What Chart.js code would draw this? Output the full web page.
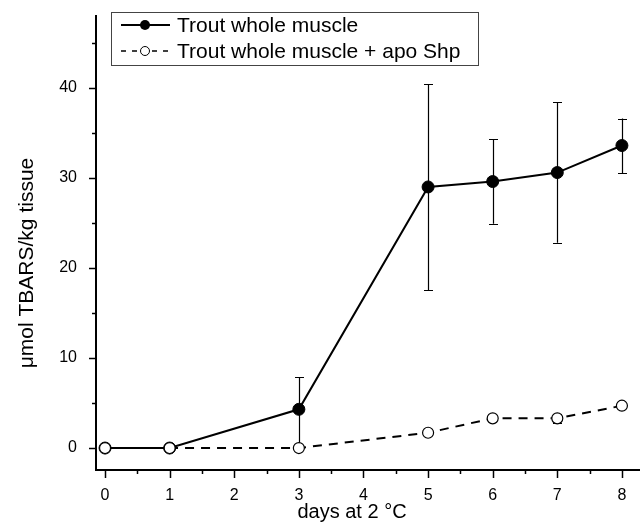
<!DOCTYPE html>
<html><head><meta charset="utf-8">
<script src="https://cdn.jsdelivr.net/npm/chart.js@4/dist/chart.umd.min.js"></script>
<style>html,body{margin:0;padding:0;background:#fff}#w{width:640px;height:525px}</style>
</head><body><div id="w"><canvas id="c" width="640" height="525"></canvas></div>
<script>
const days = [0, 1, 3, 5, 6, 7, 8];
const wholeMuscle = [0, 0, 4.3, 29.0, 29.6, 30.6, 33.6];
const wholeMuscleErrHi = [0, 0, 7.9, 40.4, 34.3, 38.4, 36.6];
const wholeMuscleErrLo = [0, 0, 0, 17.5, 24.9, 22.8, 30.5];
const apoShp = [0, 0, 0, 1.7, 3.3, 3.3, 4.7];
const apoShpErrHi = [0, 0, 0, 1.7, 3.3, 3.8, 4.7];
const apoShpErrLo = [0, 0, 0, 1.7, 3.3, 2.8, 4.7];
const xTicks = [0, 1, 2, 3, 4, 5, 6, 7, 8];
const yTicks = [0, 10, 20, 30, 40];
const legendLabels = ['Trout whole muscle', 'Trout whole muscle + apo Shp'];
const xTitle = 'days at 2 °C';
const yTitle = 'μmol TBARS/kg tissue';

const FONT = 'Liberation Sans, Arial, sans-serif';
const zeroPad = () => ({ left: 0, right: 0, top: 0, bottom: 0 });

const errPlugin = {
  id: 'err',
  beforeDatasetsDraw(chart) {
    const ctx = chart.ctx, x = chart.scales.x, y = chart.scales.y;
    const sets = [[wholeMuscleErrHi, wholeMuscleErrLo], [apoShpErrHi, apoShpErrLo]];
    ctx.save();
    ctx.strokeStyle = '#000'; ctx.lineWidth = 1.2;
    sets.forEach(([hi, lo]) => {
      days.forEach((d, i) => {
        if (hi[i] === lo[i]) return;
        const px = Math.round(x.getPixelForValue(d)) + 0.5;
        const yh = y.getPixelForValue(hi[i]), yl = y.getPixelForValue(lo[i]);
        ctx.beginPath();
        ctx.moveTo(px, yh); ctx.lineTo(px, yl);
        ctx.moveTo(px - 4.5, Math.round(yh) + 0.5); ctx.lineTo(px + 4.5, Math.round(yh) + 0.5);
        ctx.moveTo(px - 4.5, Math.round(yl) + 0.5); ctx.lineTo(px + 4.5, Math.round(yl) + 0.5);
        ctx.stroke();
      });
    });
    ctx.restore();
  },
  afterDraw(chart) {
    const ctx = chart.ctx, x = chart.scales.x, y = chart.scales.y, ca = chart.chartArea;
    ctx.save();
    ctx.strokeStyle = '#000'; ctx.lineWidth = 2;
    ctx.beginPath();
    ctx.moveTo(ca.left, ca.top); ctx.lineTo(ca.left, ca.bottom);
    ctx.lineTo(chart.width, ca.bottom);
    ctx.stroke();
    ctx.lineWidth = 1.5;
    for (let v = 0; v <= 45; v += 5) {
      const py = Math.round(y.getPixelForValue(v)) + 0.5;
      const len = v % 10 === 0 ? 7 : 4;
      ctx.beginPath(); ctx.moveTo(ca.left, py); ctx.lineTo(ca.left - len, py); ctx.stroke();
    }
    for (let v = 0; v <= 8; v += 0.5) {
      const px = Math.round(x.getPixelForValue(v)) + 0.5;
      const len = Number.isInteger(v) ? 8 : 4;
      ctx.beginPath(); ctx.moveTo(px, ca.bottom); ctx.lineTo(px, ca.bottom + len); ctx.stroke();
    }
    // axis titles
    ctx.fillStyle = '#000';
    ctx.textAlign = 'center'; ctx.textBaseline = 'middle';
    ctx.font = '20px ' + FONT;
    ctx.fillText(xTitle, 352, 512);
    ctx.save();
    ctx.translate(27, 263); ctx.rotate(-Math.PI / 2);
    ctx.font = '21px ' + FONT;
    ctx.fillText(yTitle, 0, 0);
    ctx.restore();
    // legend
    ctx.textAlign = 'left';
    const bx = 111, by = 12, bw = 367, bh = 53;
    ctx.lineWidth = 1; ctx.strokeStyle = '#444';
    ctx.strokeRect(bx + 0.5, by + 0.5, bw, bh);
    ctx.font = '21px ' + FONT; ctx.textBaseline = 'middle';
    const rows = [25, 51];
    ctx.strokeStyle = '#000'; ctx.lineWidth = 2;
    ctx.beginPath(); ctx.moveTo(121, rows[0]); ctx.lineTo(170, rows[0]); ctx.stroke();
    ctx.fillStyle = '#000';
    ctx.beginPath(); ctx.arc(145, rows[0], 5, 0, Math.PI * 2); ctx.fill();
    ctx.fillText(legendLabels[0], 177, rows[0] + 1);
    ctx.lineWidth = 1.5;
    ctx.setLineDash([5, 6]);
    ctx.beginPath(); ctx.moveTo(121, rows[1]); ctx.lineTo(138, rows[1]); ctx.stroke();
    ctx.beginPath(); ctx.moveTo(152, rows[1]); ctx.lineTo(172, rows[1]); ctx.stroke();
    ctx.setLineDash([]);
    ctx.fillStyle = '#fff'; ctx.lineWidth = 1;
    ctx.beginPath(); ctx.arc(145, rows[1], 4.5, 0, Math.PI * 2); ctx.fill(); ctx.stroke();
    ctx.fillStyle = '#000';
    ctx.fillText(legendLabels[1], 177, rows[1] + 1);
    ctx.restore();
  }
};

new Chart(document.getElementById('c'), {
  type: 'line',
  data: {
    datasets: [
      {
        label: legendLabels[0],
        data: days.map((d, i) => ({ x: d, y: wholeMuscle[i] })),
        borderColor: '#000', backgroundColor: '#000', borderWidth: 2,
        pointRadius: 6, pointBackgroundColor: '#000', pointBorderColor: '#000', pointBorderWidth: 1,
        tension: 0, order: 2
      },
      {
        label: legendLabels[1],
        data: days.map((d, i) => ({ x: d, y: apoShp[i] })),
        borderColor: '#000', backgroundColor: '#fff', borderWidth: 2, borderDash: [9, 7],
        pointRadius: 5.5, pointBackgroundColor: '#fff', pointBorderColor: '#000', pointBorderWidth: 1.2,
        tension: 0, order: 1
      }
    ]
  },
  options: {
    responsive: false, animation: false,
    layout: { autoPadding: false, padding: { top: 15, right: 0, left: 0, bottom: 0 } },
    plugins: { legend: { display: false }, tooltip: { enabled: false } },
    scales: {
      x: {
        type: 'linear', min: -0.14, max: 8.28,
        afterBuildTicks: s => { s.ticks = xTicks.map(v => ({ value: v })); },
        afterFit: s => { s.height = 55; s.paddingLeft = 0; s.paddingRight = 0; s.getPadding = zeroPad; },
        grid: { display: false }, border: { display: false },
        ticks: { color: '#000', font: { family: FONT, size: 16 }, padding: 8, maxRotation: 0 },
        title: { display: false }
      },
      y: {
        type: 'linear', min: -2.44, max: 48.1,
        afterBuildTicks: s => { s.ticks = yTicks.map(v => ({ value: v })); },
        afterFit: s => { s.width = 96; s.paddingTop = 0; s.paddingBottom = 0; s.getPadding = zeroPad; },
        grid: { display: false }, border: { display: false },
        ticks: { color: '#000', font: { family: FONT, size: 16 }, padding: 11 },
        title: { display: false }
      }
    }
  },
  plugins: [errPlugin]
});
</script></body></html>
